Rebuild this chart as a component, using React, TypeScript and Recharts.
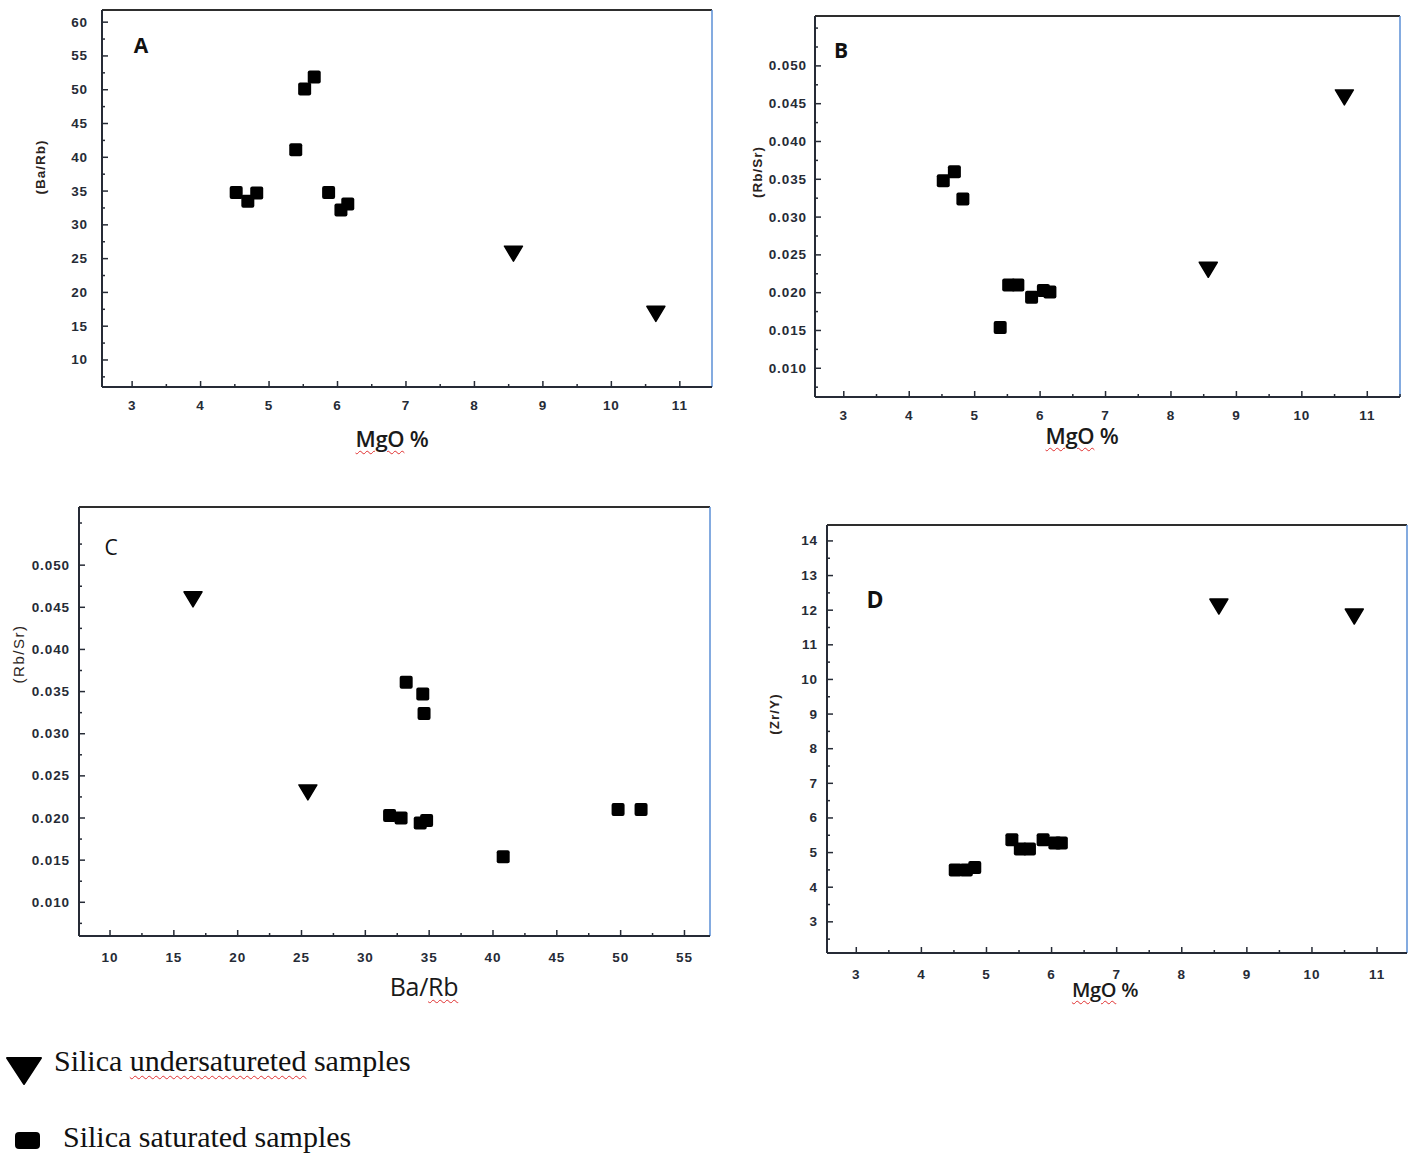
import type { CSSProperties, FC } from "react";
import {
	ReferenceLine,
	Scatter,
	ScatterChart,
	XAxis,
	YAxis,
} from "recharts";

// saturated samples (squares), same sample order in the MgO plots
const satMgO: number[] = [4.52, 4.69, 4.82, 5.39, 5.52, 5.66, 5.87, 6.05, 6.15];
const satBaRb: number[] = [34.8, 33.5, 34.7, 41.1, 50.1, 51.9, 34.8, 32.2, 33.1];
const satRbSr: number[] = [0.0348, 0.036, 0.0324, 0.0154, 0.021, 0.021, 0.0194, 0.0203, 0.0201];
const satZrY: number[] = [4.5, 4.5, 4.57, 5.37, 5.1, 5.1, 5.37, 5.28, 5.28];

// undersaturated samples (triangles)
const undMgO: number[] = [8.57, 10.65];
const undBaRb: number[] = [25.8, 16.9];
const undRbSr: number[] = [0.0231, 0.0459];
const undZrY: number[] = [12.12, 11.83];

// Ba/Rb vs Rb/Sr plot
const cSatBaRb: number[] = [33.2, 34.5, 34.6, 31.9, 32.8, 34.3, 34.8, 40.8, 49.8, 51.6];
const cSatRbSr: number[] = [0.0361, 0.0347, 0.0324, 0.0203, 0.0200, 0.0194, 0.0197, 0.0154, 0.021, 0.021];
const cUndBaRb: number[] = [16.5, 25.5];
const cUndRbSr: number[] = [0.046, 0.0231];

const mgoTicks: number[] = [3, 4, 5, 6, 7, 8, 9, 10, 11];
const baRbYTicks: number[] = [10, 15, 20, 25, 30, 35, 40, 45, 50, 55, 60];
const rbSrTicks: number[] = [0.01, 0.015, 0.02, 0.025, 0.03, 0.035, 0.04, 0.045, 0.05];
const baRbXTicks: number[] = [10, 15, 20, 25, 30, 35, 40, 45, 50, 55];
const zrYTicks: number[] = [3, 4, 5, 6, 7, 8, 9, 10, 11, 12, 13, 14];

type Pt = { x: number; y: number };
const zip = (xs: number[], ys: number[]): Pt[] => xs.map((x, i) => ({ x, y: ys[i] }));

// majors plus a minor tick halfway between each pair
const withMinors = (majors: number[], lo: number, hi: number): number[] => {
	const step = majors[1] - majors[0];
	const out: number[] = [];
	for (let v = majors[0] - step; v <= majors[majors.length - 1] + step + 1e-9; v += step / 2) {
		const r = Math.round(v * 1e6) / 1e6;
		if (r >= lo && r <= hi) out.push(r);
	}
	return out;
};

const INK = "#262b36";
const TICK_FONT = "'Liberation Sans', Arial, sans-serif";

const Square = (props: any) => {
	const { cx, cy } = props;
	if (cx == null || cy == null) return null;
	return <rect x={cx - 6.5} y={cy - 6.5} width={13} height={13} rx={2} fill="#000" />;
};

const Triangle = (props: any) => {
	const { cx, cy } = props;
	if (cx == null || cy == null) return null;
	return (
		<path
			d={`M${cx - 9},${cy - 7} L${cx + 9},${cy - 7} L${cx},${cy + 8} Z`}
			fill="#000"
			stroke="#000"
			strokeWidth={1.5}
			strokeLinejoin="round"
		/>
	);
};

type Box = { left: number; top: number; right: number; bottom: number };

type PanelProps = {
	box: Box;
	xDomain: [number, number];
	yDomain: [number, number];
	xMajors: number[];
	yMajors: number[];
	yFormat: (v: number) => string;
	squares: Pt[];
	triangles: Pt[];
	yGap: number;
	xGap: number;
};

const isMajor = (v: number, majors: number[]) => majors.some((m) => Math.abs(m - v) < 1e-9);

const tickText = {
	fontFamily: TICK_FONT,
	fontWeight: "bold",
	fontSize: 13.5,
	letterSpacing: 0.9,
	fill: INK,
};

const Panel: FC<PanelProps> = ({
	box,
	xDomain,
	yDomain,
	xMajors,
	yMajors,
	yFormat,
	squares,
	triangles,
	yGap,
	xGap,
}) => {
	const padL = 70;
	const padB = 40;
	const width = box.right - box.left + padL + 10;
	const height = box.bottom - box.top + padB + 10;

	const XTick = (p: any) => {
		const v = p.payload.value as number;
		const major = isMajor(v, xMajors);
		return (
			<g>
				<line x1={p.x} x2={p.x} y1={p.y} y2={p.y - (major ? 6 : 3)} stroke={INK} strokeWidth={1.5} />
				{major && (
					<text x={p.x} y={p.y + xGap} textAnchor="middle" dominantBaseline="central" {...tickText}>
						{v}
					</text>
				)}
			</g>
		);
	};

	const YTick = (p: any) => {
		const v = p.payload.value as number;
		const major = isMajor(v, yMajors);
		return (
			<g>
				<line x1={p.x} x2={p.x + (major ? 6 : 3)} y1={p.y} y2={p.y} stroke={INK} strokeWidth={1.5} />
				{major && (
					<text x={p.x - yGap} y={p.y} textAnchor="end" dominantBaseline="central" {...tickText}>
						{yFormat(v)}
					</text>
				)}
			</g>
		);
	};

	return (
		<div style={{ position: "absolute", left: box.left - padL, top: box.top - 10 }}>
			<ScatterChart width={width} height={height} margin={{ top: 10, right: 10, bottom: 0, left: 0 }}>
				<XAxis
					type="number"
					dataKey="x"
					domain={xDomain}
					allowDataOverflow
					ticks={withMinors(xMajors, xDomain[0], xDomain[1])}
					interval={0}
					height={padB}
					tickSize={0}
					tickMargin={0}
					tickLine={false}
					tick={XTick}
					axisLine={{ stroke: INK, strokeWidth: 2 }}
				/>
				<YAxis
					type="number"
					dataKey="y"
					domain={yDomain}
					allowDataOverflow
					ticks={withMinors(yMajors, yDomain[0], yDomain[1])}
					interval={0}
					width={padL}
					tickSize={0}
					tickMargin={0}
					tickLine={false}
					tick={YTick}
					axisLine={{ stroke: INK, strokeWidth: 2 }}
				/>
				<ReferenceLine y={yDomain[1]} stroke="#2e2e2e" strokeWidth={2} />
				<ReferenceLine x={xDomain[1]} stroke="#5b8fd6" strokeWidth={1.5} />
				<Scatter data={squares} shape={Square} isAnimationActive={false} />
				<Scatter data={triangles} shape={Triangle} isAnimationActive={false} />
			</ScatterChart>
		</div>
	);
};

const wavy: CSSProperties = {
	textDecorationLine: "underline",
	textDecorationStyle: "wavy",
	textDecorationColor: "#e03030",
	textDecorationThickness: "1px",
	textUnderlineOffset: "3px",
};

const Abs: FC<{ x: number; y: number; style?: CSSProperties; rotate?: boolean; children: React.ReactNode }> = ({
	x,
	y,
	style,
	rotate,
	children,
}) => (
	<div
		style={{
			position: "absolute",
			left: x,
			top: y,
			transform: `translate(-50%, -50%)${rotate ? " rotate(-90deg)" : ""}`,
			whiteSpace: "nowrap",
			lineHeight: 1,
			...style,
		}}
	>
		{children}
	</div>
);

const axisTitle: CSSProperties = {
	fontFamily: "'Open Sans', 'Noto Sans', sans-serif",
	fontWeight: 600,
	fontSize: 22,
	letterSpacing: -0.3,
	color: "#1a1a1a",
};

const yTitle: CSSProperties = {
	fontFamily: TICK_FONT,
	fontWeight: "bold",
	fontSize: 13.5,
	letterSpacing: 1,
	color: "#2a2320",
};

const panelLetter: CSSProperties = {
	fontFamily: "'Open Sans', 'Noto Sans', sans-serif",
	fontWeight: 700,
	fontSize: 21,
	color: "#111",
};

const legendText: CSSProperties = {
	fontFamily: "'Liberation Serif', 'Times New Roman', serif",
	fontSize: 30,
	color: "#111",
};

const fmt3 = (v: number) => v.toFixed(3);
const fmt0 = (v: number) => String(v);

const App: FC = () => (
	<div
		style={{
			position: "absolute",
			left: 0,
			top: 0,
			width: 1414,
			height: 1157,
			background: "#fff",
			overflow: "hidden",
		}}
	>
		<Panel
			box={{ left: 102, top: 10, right: 712, bottom: 387 }}
			xDomain={[2.56, 11.47]}
			yDomain={[6, 61.8]}
			xMajors={mgoTicks}
			yMajors={baRbYTicks}
			yFormat={fmt0}
			squares={zip(satMgO, satBaRb)}
			triangles={zip(undMgO, undBaRb)}
			yGap={14}
			xGap={18}
		/>
		<Panel
			box={{ left: 815, top: 16, right: 1400, bottom: 397 }}
			xDomain={[2.56, 11.5]}
			yDomain={[0.0062, 0.0566]}
			xMajors={mgoTicks}
			yMajors={rbSrTicks}
			yFormat={fmt3}
			squares={zip(satMgO, satRbSr)}
			triangles={zip(undMgO, undRbSr)}
			yGap={8}
			xGap={18}
		/>
		<Panel
			box={{ left: 79, top: 507, right: 710, bottom: 936 }}
			xDomain={[7.57, 57]}
			yDomain={[0.006, 0.0569]}
			xMajors={baRbXTicks}
			yMajors={rbSrTicks}
			yFormat={fmt3}
			squares={zip(cSatBaRb, cSatRbSr)}
			triangles={zip(cUndBaRb, cUndRbSr)}
			yGap={9}
			xGap={21}
		/>
		<Panel
			box={{ left: 827, top: 525, right: 1407, bottom: 953 }}
			xDomain={[2.55, 11.46]}
			yDomain={[2.1, 14.46]}
			xMajors={mgoTicks}
			yMajors={zrYTicks}
			yFormat={fmt0}
			squares={zip(satMgO, satZrY)}
			triangles={zip(undMgO, undZrY)}
			yGap={9}
			xGap={21}
		/>

		{/* panel letters */}
		<Abs x={141} y={45} style={panelLetter}>A</Abs>
		<Abs x={841} y={50} style={panelLetter}>B</Abs>
		<Abs x={111} y={547} style={{ ...panelLetter, fontWeight: 400 }}>C</Abs>
		<Abs x={875} y={599} style={{ ...panelLetter, fontSize: 23 }}>D</Abs>

		{/* axis titles */}
		<Abs x={392} y={438} style={axisTitle}>
			<span style={wavy}>MgO</span> %
		</Abs>
		<Abs x={1082} y={435} style={axisTitle}>
			<span style={wavy}>MgO</span> %
		</Abs>
		<Abs x={424} y={986} style={{ ...axisTitle, fontWeight: 400, fontSize: 25 }}>
			Ba/<span style={wavy}>Rb</span>
		</Abs>
		<Abs x={1105} y={990} style={{ ...axisTitle, fontSize: 20 }}>
			<span style={wavy}>MgO</span> %
		</Abs>

		<Abs x={41} y={167} rotate style={yTitle}>(Ba/Rb)</Abs>
		<Abs x={758} y={172} rotate style={yTitle}>(Rb/Sr)</Abs>
		<Abs x={18} y={654} rotate style={{ ...yTitle, fontWeight: 400, fontSize: 15, letterSpacing: 1.5 }}>
			(Rb/Sr)
		</Abs>
		<Abs x={775} y={714} rotate style={yTitle}>(Zr/Y)</Abs>

		{/* legend */}
		<svg style={{ position: "absolute", left: 0, top: 1040 }} width={60} height={117}>
			<path d="M7,18 L41,18 L24,44 Z" fill="#000" stroke="#000" strokeWidth={2} strokeLinejoin="round" />
			<rect x={15} y={92} width={25} height={17} rx={4} fill="#000" />
		</svg>
		<div style={{ ...legendText, position: "absolute", left: 54, top: 1046, lineHeight: 1 }}>
			Silica <span style={{ ...wavy, textUnderlineOffset: "4px" }}>undersatureted</span> samples
		</div>
		<div style={{ ...legendText, position: "absolute", left: 63, top: 1122, lineHeight: 1 }}>
			Silica saturated samples
		</div>
	</div>
);

export default App;
